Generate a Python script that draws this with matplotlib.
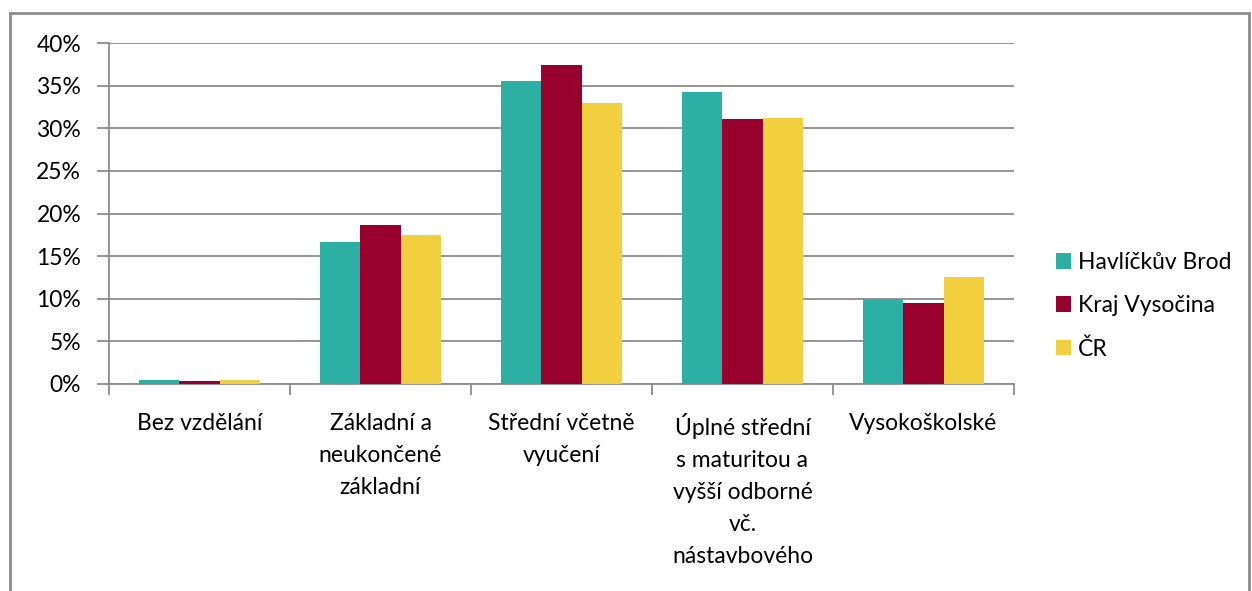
import matplotlib
matplotlib.use("Agg")
import matplotlib.pyplot as plt
import numpy as np
from matplotlib.patches import Rectangle

categories = ["Bez vzdělání", "Základní a\nneukončené\nzákladní", "Střední včetně\nvyučení",
              "Úplné střední\ns maturitou a\nvyšší odborné\nvč.\nnástavbového", "Vysokoškolské"]
series_names = ["Havlíčkův Brod", "Kraj Vysočina", "ČR"]
havlickuv_brod = [0.45, 16.7, 35.6, 34.3, 10.0]
kraj_vysocina = [0.3, 18.6, 37.4, 31.1, 9.5]
cr = [0.45, 17.5, 33.0, 31.2, 12.5]
yticks = [0, 5, 10, 15, 20, 25, 30, 35, 40]
colors = ["#2DAFA3", "#98002E", "#F2CF3E"]

plt.rcParams['font.family'] = ['Lato', 'DejaVu Sans']
FS = 16.5
W, H = 1252, 591
fig = plt.figure(figsize=(W/100, H/100), dpi=100)
ax = fig.add_axes([109/W, 1-384/H, (1014-109)/W, (384-43)/H])

x = np.arange(len(categories))
bw = 0.221
data = [havlickuv_brod, kraj_vysocina, cr]
handles = []
for i, (vals, c) in enumerate(zip(data, colors)):
    h = ax.bar(x + (i-1)*bw, vals, width=bw, color=c, zorder=3, linewidth=0)
    handles.append(h)

ax.set_xlim(-0.5, len(categories)-0.5)
ax.set_ylim(0, 40)
ax.set_yticks(yticks)
ax.set_yticklabels([f"{t}%" for t in yticks])
ax.yaxis.grid(True, color="#8C8C8C", linewidth=1.3, zorder=0)
ax.tick_params(axis='y', length=9, width=1.3, color="#8C8C8C", labelsize=FS, pad=11, labelcolor="#000000")
ax.set_xticks(np.arange(len(categories)+1)-0.5, minor=True)
ax.set_xticks(x)
ax.set_xticklabels(categories, linespacing=1.65, va='top')
ax.tick_params(axis='x', which='major', length=0, labelsize=FS, pad=21)
ax.tick_params(axis='x', which='minor', length=8, width=1.3, color="#8C8C8C")
for s in ['top', 'right']:
    ax.spines[s].set_visible(False)
for s in ['left', 'bottom']:
    ax.spines[s].set_color("#8C8C8C")
    ax.spines[s].set_linewidth(1.3)

leg = fig.legend(handles, series_names, loc='upper left', bbox_to_anchor=(1047/W, 1-243/H),
                 frameon=False, fontsize=FS, handlelength=0.65, handleheight=0.65,
                 handletextpad=0.3, labelspacing=0.96, borderaxespad=0)

fig.patches.append(Rectangle((9.5/W, -0.1), (1249-9.5)/W, 1.1 - 13/H, transform=fig.transFigure,
                             fill=False, edgecolor="#8C8C8C", linewidth=2))
fig.savefig("out.png", dpi=100)
